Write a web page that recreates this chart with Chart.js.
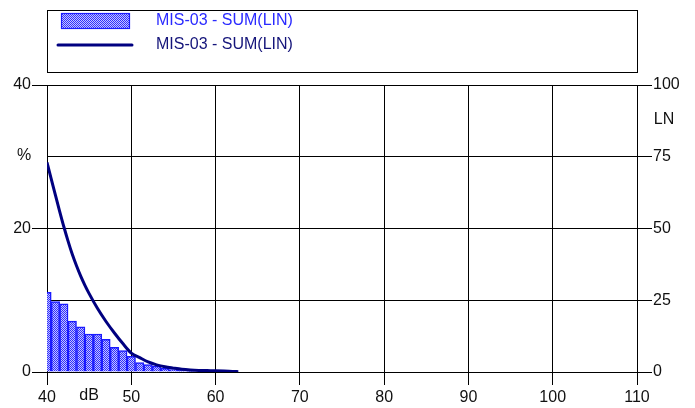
<!DOCTYPE html>
<html>
<head>
<meta charset="utf-8">
<script src="https://cdn.jsdelivr.net/npm/chart.js@4.4.1/dist/chart.umd.min.js"></script>
<style>
html,body{margin:0;padding:0;background:#fff;}
canvas{display:block;}
</style>
</head>
<body>
<canvas id="c" width="695" height="408"></canvas>
<script>
// Distribution bins (dB) and percentage per bin (left axis, %)
const binLevels = [40,41,42,43,44,45,46,47,48,49,50,51,52,53,54,55,56,57];
const binPercent = [11.1,9.8,9.5,7.1,6.3,5.3,5.3,4.55,3.45,3.0,2.2,1.3,1.05,0.82,0.52,0.32,0.22,0.12];

// Cumulative LN curve (right axis)
const lnLevels = [40,40.5,41,41.5,42,42.5,43,43.5,44,44.5,45,46,47,48,49,50,51,52,53,54,55,56,57,58,59,60,61,62,62.7];
const lnValues = [73.0,67.3,61.6,56.0,50.6,45.6,41.0,37.0,33.4,30.2,27.3,22.1,17.6,13.6,9.9,6.6,5.0,3.5,2.5,1.8,1.35,0.95,0.7,0.55,0.48,0.42,0.32,0.2,0.12];

const xTicks = [40,50,60,70,80,90,100,110];
const legendLabels = ['MIS-03 - SUM(LIN)','MIS-03 - SUM(LIN)'];
const axisTitles = {left:'%', right:'LN', bottom:'dB'};

const FONT = '"Liberation Sans", Arial, sans-serif';

function makePattern(){
  const p = document.createElement('canvas');
  p.width = 2; p.height = 2;
  const g = p.getContext('2d');
  g.fillStyle = '#c4c4ff'; g.fillRect(0,0,2,2);
  g.fillStyle = '#2f2fff'; g.fillRect(0,0,1,1); g.fillRect(1,1,1,1);
  return document.getElementById('c').getContext('2d').createPattern(p,'repeat');
}
const barPattern = makePattern();

const overlay = {
  id:'overlay',
  afterDraw(chart){
    const ctx = chart.ctx;
    const ca = chart.chartArea;
    const sx = chart.scales.x, sy = chart.scales.y, sy1 = chart.scales.y1;
    ctx.save();
    // legend box
    ctx.strokeStyle = '#000'; ctx.lineWidth = 1;
    ctx.strokeRect(Math.round(ca.left)+0.5, 10.5, Math.round(ca.right-ca.left), 62);
    // bar swatch
    ctx.fillStyle = barPattern;
    ctx.fillRect(61,13,69,16);
    ctx.strokeStyle = '#1a1aff'; ctx.lineWidth = 1.2;
    ctx.strokeRect(61.5,13.5,68,15);
    // line swatch
    ctx.strokeStyle = '#000080'; ctx.lineWidth = 3; ctx.lineCap='round';
    ctx.beginPath(); ctx.moveTo(58,45); ctx.lineTo(132,45); ctx.stroke();
    ctx.font = '16px ' + FONT;
    ctx.textBaseline = 'middle'; ctx.textAlign = 'left';
    ctx.fillStyle = '#2a2aff';
    ctx.fillText(legendLabels[0], 156, 21);
    ctx.fillStyle = '#14147a';
    ctx.fillText(legendLabels[1], 156, 45);
    // axis titles
    ctx.fillStyle = '#111';
    ctx.textAlign = 'center';
    ctx.fillText(axisTitles.left, 24, sy.getPixelForValue(30.2));
    ctx.fillText(axisTitles.right, 664, sy1.getPixelForValue(88));
    ctx.fillText(axisTitles.bottom, sx.getPixelForValue(45), 396);
    ctx.restore();
  }
};

new Chart(document.getElementById('c'), {
  data: {
    datasets: [
      {
        type:'line',
        data: lnLevels.map((x,i)=>({x, y: lnValues[i]})),
        yAxisID:'y1',
        borderColor:'#000080',
        borderWidth:3,
        pointRadius:0,
        cubicInterpolationMode:'monotone',
        fill:false,
        order:1
      },
      {
        type:'bar',
        data: binLevels.map((x,i)=>({x, y: binPercent[i]})),
        yAxisID:'y',
        backgroundColor: barPattern,
        borderColor:'#1a1aff',
        borderWidth:1.5,
        barPercentage:1,
        categoryPercentage:1,
        order:2
      }
    ]
  },
  options: {
    responsive:false,
    animation:false,
    events:[],
    layout:{padding:{top:85,left:0,right:0,bottom:0}},
    plugins:{legend:{display:false}, tooltip:{enabled:false}},
    scales:{
      x:{
        type:'linear', min:40, max:110, offset:false,
        afterBuildTicks(s){ s.ticks = xTicks.map(v=>({value:v})); },
        afterFit(s){ s.height = 36; },
        grid:{color:'#000', lineWidth:1, tickLength:13, drawTicks:true, offset:false},
        border:{display:true, color:'#000', width:1},
        ticks:{color:'#111', font:{family:FONT, size:16}, padding:3, maxRotation:0, autoSkip:false}
      },
      y:{
        position:'left', min:0, max:40,
        ticks:{stepSize:20, color:'#111', font:{family:FONT, size:16}, padding:1},
        afterFit(s){ s.width = 47; },
        grid:{drawOnChartArea:false, color:'#000', tickLength:15},
        border:{display:true, color:'#000', width:1}
      },
      y1:{
        position:'right', min:0, max:100,
        ticks:{stepSize:25, color:'#111', font:{family:FONT, size:16}, padding:1},
        afterFit(s){ s.width = 58; },
        grid:{drawOnChartArea:true, color:'#000', tickLength:15},
        border:{display:true, color:'#000', width:1}
      }
    }
  },
  plugins:[overlay]
});
</script>
</body>
</html>
